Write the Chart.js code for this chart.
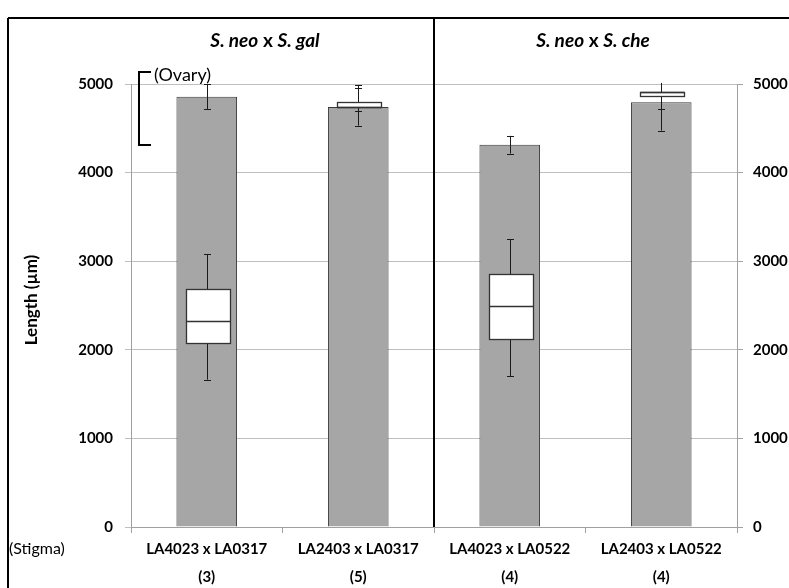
<!DOCTYPE html>
<html>
<head>
<meta charset="utf-8">
<script src="https://cdn.jsdelivr.net/npm/chart.js@4"></script>
<style>
  body { margin: 0; background: #fff; }
  canvas { display: block; }
</style>
</head>
<body>
<canvas id="lengthChart" width="789" height="588"></canvas>
<script>
// crosses and number of pistils
const crosses = ['LA4023 x LA0317', 'LA2403 x LA0317', 'LA4023 x LA0522', 'LA2403 x LA0522'];
const sampleSizes = ['(3)', '(5)', '(4)', '(4)'];

// pistil length (bar) with error
const pistilMean = [4857, 4740, 4315, 4794];
const pistilErr = [140, 210, 100, 320];

// pollen tube length (box)
const tubeMin = [1663, 4700, 1700, 4720];
const tubeQ1 = [2073, 4740, 2120, 4865];
const tubeMedian = [2327, 4740, 2490, 4913];
const tubeQ3 = [2681, 4800, 2850, 4913];
const tubeMax = [3078, 4990, 3250, 5060];

const yTicks = [0, 1000, 2000, 3000, 4000, 5000];
const panelTitles = [['S. neo', 'S. gal'], ['S. neo', 'S. che']];

const FONT = 'Lato, "Open Sans", sans-serif';

function vLine(ctx, x, y1, y2) {
  ctx.beginPath();
  ctx.moveTo(x, y1);
  ctx.lineTo(x, y2);
  ctx.stroke();
}
function hLine(ctx, y, x1, x2) {
  ctx.beginPath();
  ctx.moveTo(x1, y);
  ctx.lineTo(x2, y);
  ctx.stroke();
}

// error bars + boxes drawn from the scales
const boxPlugin = {
  id: 'boxes',
  afterDatasetsDraw(chart) {
    const ctx = chart.ctx;
    const y = chart.scales.y;
    const area = chart.chartArea;
    const meta = chart.getDatasetMeta(0);
    ctx.save();
    ctx.beginPath();
    ctx.rect(area.left, area.top - 1, area.right - area.left, area.bottom - area.top + 1);
    ctx.clip();
    meta.data.forEach((bar, i) => {
      const cx = Math.round(bar.x) + 0.5;
      const half = bar.width * 0.36;
      const cap = 3.5;
      ctx.strokeStyle = '#1a1a1a';
      ctx.lineWidth = 1;
      // pistil error bar
      const eTop = y.getPixelForValue(pistilMean[i] + pistilErr[i]);
      const eBot = y.getPixelForValue(pistilMean[i] - pistilErr[i]);
      vLine(ctx, cx, eTop, eBot);
      hLine(ctx, Math.round(eTop) + 0.5, cx - cap, cx + cap);
      hLine(ctx, Math.round(eBot) + 0.5, cx - cap, cx + cap);
      // tube whiskers
      const wTop = y.getPixelForValue(tubeMax[i]);
      const wBot = y.getPixelForValue(tubeMin[i]);
      vLine(ctx, cx, wTop, wBot);
      hLine(ctx, Math.round(wTop) + 0.5, cx - cap, cx + cap);
      hLine(ctx, Math.round(wBot) + 0.5, cx - cap, cx + cap);
      // box
      const q3 = Math.round(y.getPixelForValue(tubeQ3[i])) + 0.5;
      const q1 = Math.round(y.getPixelForValue(tubeQ1[i])) + 0.5;
      const md = Math.round(y.getPixelForValue(tubeMedian[i])) + 0.5;
      const bx = Math.round(cx - half) + 0.5;
      const bw = Math.round(half * 2);
      ctx.fillStyle = '#fff';
      ctx.fillRect(bx, q3, bw, q1 - q3);
      ctx.strokeStyle = '#333';
      ctx.lineWidth = 1.3;
      ctx.strokeRect(bx, q3, bw, q1 - q3);
      hLine(ctx, md, bx, bx + bw);
    });
    ctx.restore();
  },
  afterDraw(chart) {
    const ctx = chart.ctx;
    const x = chart.scales.x;
    const area = chart.chartArea;
    ctx.save();
    // frame and divider
    ctx.strokeStyle = '#000';
    ctx.lineWidth = 2;
    hLine(ctx, 18, 8, 789);
    vLine(ctx, 8, 18, 588);
    const divX = x.getPixelForValue(1.5);
    vLine(ctx, divX, 18, area.bottom);

    // panel titles
    const titleX = [265, 593];
    panelTitles.forEach((t, i) => {
      const ital = 'italic bold 19px ' + FONT;
      const norm = 'bold 19px ' + FONT;
      ctx.font = ital;
      const w1 = ctx.measureText(t[0]).width;
      const w3 = ctx.measureText(t[1]).width;
      ctx.font = norm;
      const w2 = ctx.measureText(' x ').width;
      let px = titleX[i] - (w1 + w2 + w3) / 2;
      ctx.fillStyle = '#000';
      ctx.textBaseline = 'middle';
      ctx.textAlign = 'left';
      ctx.font = ital; ctx.fillText(t[0], px, 41); px += w1;
      ctx.font = norm; ctx.fillText(' x ', px, 41); px += w2;
      ctx.font = ital; ctx.fillText(t[1], px, 41);
    });

    // y title
    ctx.save();
    ctx.translate(32, 300);
    ctx.rotate(-Math.PI / 2);
    ctx.font = 'bold 17px ' + FONT;
    ctx.textAlign = 'center';
    ctx.textBaseline = 'middle';
    ctx.fillText('Length (\u00b5m)', 0, 0);
    ctx.restore();

    // ovary bracket
    ctx.lineWidth = 2;
    ctx.beginPath();
    ctx.moveTo(151, 72);
    ctx.lineTo(139, 72);
    ctx.lineTo(139, 145);
    ctx.lineTo(151, 145);
    ctx.stroke();
    ctx.font = '18px ' + FONT;
    ctx.textAlign = 'left';
    ctx.textBaseline = 'middle';
    ctx.fillText('(Ovary)', 154, 75);
    ctx.font = '16px ' + FONT;
    ctx.fillText('(Stigma)', 9, 549);
    ctx.restore();
  }
};

const tickFont = { family: FONT, size: 15, weight: 'bold' };

window.onload = function() {
  const ctx = document.getElementById('lengthChart').getContext('2d');
  new Chart(ctx, {
    type: 'bar',
    data: {
      labels: crosses.map((c, i) => [c, sampleSizes[i]]),
      datasets: [{
        data: pistilMean,
        backgroundColor: '#a6a6a6',
        borderColor: '#3a3a3a',
        borderWidth: 1,
        barPercentage: 0.4,
        categoryPercentage: 1
      }]
    },
    options: {
      responsive: false,
      animation: false,
      devicePixelRatio: 1,
      layout: { padding: { left: 0, right: 0, top: 84, bottom: 0 } },
      plugins: { legend: { display: false }, tooltip: { enabled: false } },
      scales: {
        x: {
          grid: { drawOnChartArea: false, offset: true, tickLength: 6, color: '#a0a0a0' },
          border: { color: '#a0a0a0' },
          ticks: {
            font: Object.assign({ lineHeight: 1.87 }, tickFont),
            color: '#000', padding: 2, autoSkip: false, maxRotation: 0
          },
          afterFit: s => { s.height = 61; }
        },
        y: {
          min: 0, max: 5000,
          afterBuildTicks: s => { s.ticks = yTicks.map(v => ({ value: v })); },
          grid: { color: '#bfbfbf', tickLength: 6 },
          border: { color: '#a0a0a0' },
          ticks: { font: tickFont, color: '#000', padding: 12, callback: v => String(v) },
          afterFit: s => { s.width = 131; }
        },
        y2: {
          position: 'right',
          min: 0, max: 5000,
          afterBuildTicks: s => { s.ticks = yTicks.map(v => ({ value: v })); },
          grid: { drawOnChartArea: false, tickLength: 6, color: '#a0a0a0' },
          border: { color: '#a0a0a0' },
          ticks: { font: tickFont, color: '#000', padding: 10, callback: v => String(v) },
          afterFit: s => { s.width = 52; }
        }
      }
    },
    plugins: [boxPlugin]
  });
};
</script>
</body>
</html>
